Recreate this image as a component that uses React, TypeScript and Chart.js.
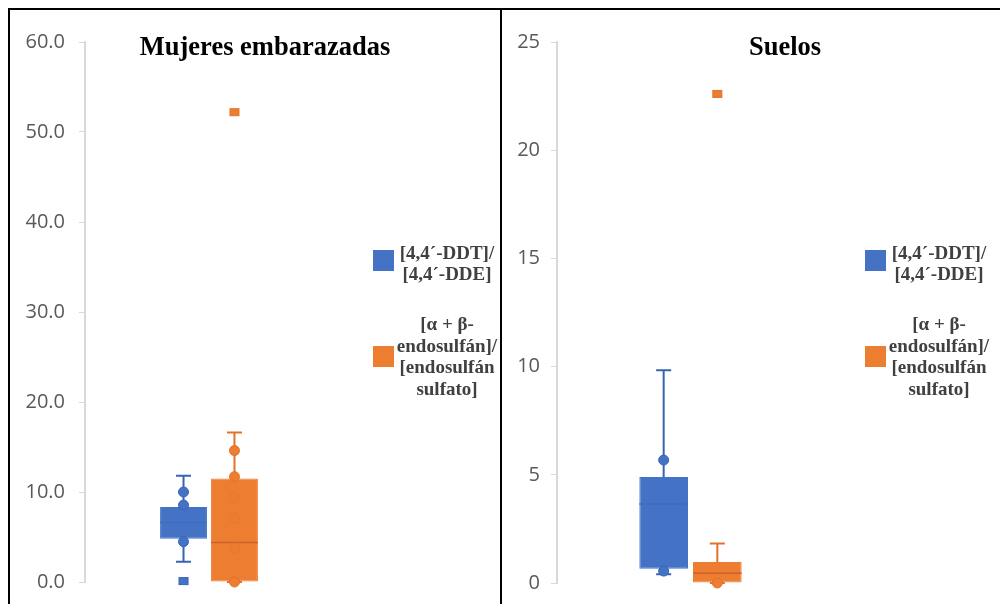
import React, { useEffect, useRef } from 'react';
import { Chart, registerables } from 'chart.js';

Chart.register(...registerables);

// Series shared by both panels
const seriesLabels: string[][] = [
  ['[4,4´-DDT]/', '[4,4´-DDE]'],
  ['[α + β-', 'endosulfán]/', '[endosulfán', 'sulfato]'],
];
const seriesFill = ['#4472C4', '#ED7D31'];
const seriesLine = ['#3763B5', '#E2722A'];
const seriesMedian = ['#406dbf', '#C9642A'];

// Box values: [lower whisker, Q1, median, Q3, upper whisker]
// Mujeres embarazadas
const womenTitle = 'Mujeres embarazadas';
const womenDdtBox = [2.26, 4.81, 6.6, 8.33, 11.8];
const womenDdtPoints = [10.0, 8.55, 4.48];
const womenDdtOutliers = [0.1];
const womenEndoBox = [0, 0, 4.4, 11.5, 16.6];
const womenEndoPoints = [14.6, 11.7, 9.4, 7.1, 3.8, 0];
const womenEndoOutliers = [52.2];
const womenAxisMax = 60;
const womenAxisStep = 10;

// Suelos
const soilTitle = 'Suelos';
const soilDdtBox = [0.4, 0.66, 3.65, 4.9, 9.83];
const soilDdtPoints = [5.68, 0.55];
const soilDdtOutliers: number[] = [];
const soilEndoBox = [0.0, 0.02, 0.45, 0.97, 1.83];
const soilEndoPoints = [0.0];
const soilEndoOutliers = [22.6];
const soilAxisMax = 25;
const soilAxisStep = 5;

type PanelProps = {
  width: number;
  height: number;
  title: string;
  titleX: number;
  yMax: number;
  yStep: number;
  decimals: number;
  axisWidth: number;
  tickPad: number;
  padTop: number;
  padBottom: number;
  padRight: number;
  catPct: number;
  barPct: number;
  boxes: number[][];
  points: number[][];
  outliers: number[][];
};

const boxWhiskerPlugin = {
  id: 'boxWhisker',
  afterDatasetsDraw(chart: any, _args: any, opts: any) {
    const { ctx } = chart;
    const y = chart.scales.y;
    (opts.boxes as number[][]).forEach((box, i) => {
      const bar = chart.getDatasetMeta(i).data[0] as any;
      if (!bar) return;
      const x = bar.x;
      const half = bar.width / 2;
      const [lo, q1, med, q3, hi] = box;
      const capHalf = 7.5;
      ctx.save();
      // whiskers and caps
      ctx.strokeStyle = seriesLine[i];
      ctx.lineWidth = 2;
      ctx.beginPath();
      ctx.moveTo(x, y.getPixelForValue(q3));
      ctx.lineTo(x, y.getPixelForValue(hi));
      ctx.moveTo(x - capHalf, y.getPixelForValue(hi));
      ctx.lineTo(x + capHalf, y.getPixelForValue(hi));
      ctx.moveTo(x, y.getPixelForValue(q1));
      ctx.lineTo(x, y.getPixelForValue(lo));
      ctx.moveTo(x - capHalf, y.getPixelForValue(lo));
      ctx.lineTo(x + capHalf, y.getPixelForValue(lo));
      ctx.stroke();
      // median
      ctx.strokeStyle = seriesMedian[i];
      ctx.lineWidth = 1.5;
      ctx.beginPath();
      ctx.moveTo(x - half, y.getPixelForValue(med));
      ctx.lineTo(x + half, y.getPixelForValue(med));
      ctx.stroke();
      // data points
      (opts.points[i] as number[]).forEach((v) => {
        const inside = v > q1 && v < q3;
        ctx.globalAlpha = inside ? 0.45 : 1;
        ctx.beginPath();
        ctx.arc(x, y.getPixelForValue(v), 5, 0, Math.PI * 2);
        ctx.fillStyle = seriesFill[i];
        ctx.fill();
        ctx.lineWidth = 1;
        ctx.strokeStyle = seriesLine[i];
        ctx.stroke();
      });
      ctx.globalAlpha = 1;
      // outliers
      (opts.outliers[i] as number[]).forEach((v) => {
        const py = y.getPixelForValue(v);
        ctx.fillStyle = seriesFill[i];
        ctx.fillRect(x - 4.5, py - 3.5, 9, 7);
        ctx.lineWidth = 1;
        ctx.strokeStyle = seriesLine[i];
        ctx.strokeRect(x - 4.5, py - 3.5, 9, 7);
      });
      ctx.restore();
    });
  },
  afterDraw(chart: any, _args: any, opts: any) {
    const { ctx } = chart;
    ctx.save();
    // title
    ctx.fillStyle = '#000';
    ctx.font = 'bold 26.5px "Liberation Serif", "Times New Roman", serif';
    ctx.textAlign = 'center';
    ctx.textBaseline = 'alphabetic';
    ctx.fillText(opts.title, opts.titleX, 45);
    // legend
    const swatchX = 363;
    const swatchTops = [240, 336];
    const textX = 437;
    const firstBaselines = [248.5, 320];
    const lineGap = 21.5;
    ctx.font = 'bold 19px "Liberation Serif", "Times New Roman", serif';
    seriesLabels.forEach((lines, i) => {
      ctx.fillStyle = seriesFill[i];
      ctx.fillRect(swatchX, swatchTops[i], 21, 21);
      ctx.fillStyle = '#404040';
      lines.forEach((t, k) => {
        ctx.fillText(t, textX, firstBaselines[i] + k * lineGap);
      });
    });
    ctx.restore();
  },
};

function BoxPanel(p: PanelProps) {
  const ref = useRef<HTMLCanvasElement | null>(null);
  useEffect(() => {
    if (!ref.current) return;
    const chart = new Chart(ref.current, {
      type: 'bar',
      data: {
        labels: [''],
        datasets: p.boxes.map((b, i) => ({
          label: seriesLabels[i].join(' '),
          data: [[b[1], b[3]]] as any,
          backgroundColor: seriesFill[i],
          borderColor: seriesFill[i],
          borderWidth: 1,
          borderSkipped: false,
          categoryPercentage: p.catPct,
          barPercentage: p.barPct,
        })),
      },
      options: {
        responsive: false,
        animation: false,
        devicePixelRatio: 1,
        layout: {
          padding: { top: p.padTop, bottom: p.padBottom, left: 0, right: p.padRight },
        },
        scales: {
          x: { type: 'category', display: false },
          y: {
            min: 0,
            max: p.yMax,
            afterFit: (scale: any) => {
              // fixed axis width; the layout padding alone sets the plot's vertical extent
              scale.width = p.axisWidth;
              scale.paddingTop = 0;
              scale.paddingBottom = 0;
            },
            ticks: {
              stepSize: p.yStep,
              padding: p.tickPad,
              color: '#595959',
              font: { family: '"Open Sans", sans-serif', size: 20 },
              callback: (v: any) => Number(v).toFixed(p.decimals),
            },
            grid: {
              drawOnChartArea: false,
              drawTicks: true,
              tickLength: 6,
              color: '#d9d9d9',
            },
            border: { display: true, color: '#d9d9d9', width: 2 },
          },
        },
        plugins: {
          legend: { display: false },
          tooltip: { enabled: false },
          boxWhisker: {
            title: p.title,
            titleX: p.titleX,
            boxes: p.boxes,
            points: p.points,
            outliers: p.outliers,
          },
        } as any,
      },
      plugins: [boxWhiskerPlugin],
    });
    return () => chart.destroy();
  }, []);
  return (
    <canvas
      ref={ref}
      width={p.width}
      height={p.height}
      style={{ display: 'block', width: p.width, height: p.height }}
    />
  );
}

export default function App() {
  return (
    <div
      style={{
        width: 1000,
        height: 596,
        boxSizing: 'border-box',
        borderTop: '2px solid #000',
        borderLeft: '2px solid #000',
        display: 'flex',
        background: '#fff',
        overflow: 'hidden',
      }}
    >
      <div style={{ width: 490, height: 594, overflow: 'hidden' }}>
        <BoxPanel
          width={490}
          height={594}
          title={womenTitle}
          titleX={255}
          yMax={womenAxisMax}
          yStep={womenAxisStep}
          decimals={1}
          axisWidth={75}
          tickPad={14}
          padTop={32}
          padBottom={22}
          padRight={167}
          catPct={0.411}
          barPct={0.92}
          boxes={[womenDdtBox, womenEndoBox]}
          points={[womenDdtPoints, womenEndoPoints]}
          outliers={[womenDdtOutliers, womenEndoOutliers]}
        />
      </div>
      <div
        style={{
          width: 508,
          height: 594,
          boxSizing: 'border-box',
          borderLeft: '2px solid #000',
          overflow: 'hidden',
        }}
      >
        <BoxPanel
          width={506}
          height={594}
          title={soilTitle}
          titleX={283}
          yMax={soilAxisMax}
          yStep={soilAxisStep}
          decimals={0}
          axisWidth={55}
          tickPad={11}
          padTop={32}
          padBottom={21}
          padRight={184}
          catPct={0.402}
          barPct={0.907}
          boxes={[soilDdtBox, soilEndoBox]}
          points={[soilDdtPoints, soilEndoPoints]}
          outliers={[soilDdtOutliers, soilEndoOutliers]}
        />
      </div>
    </div>
  );
}
